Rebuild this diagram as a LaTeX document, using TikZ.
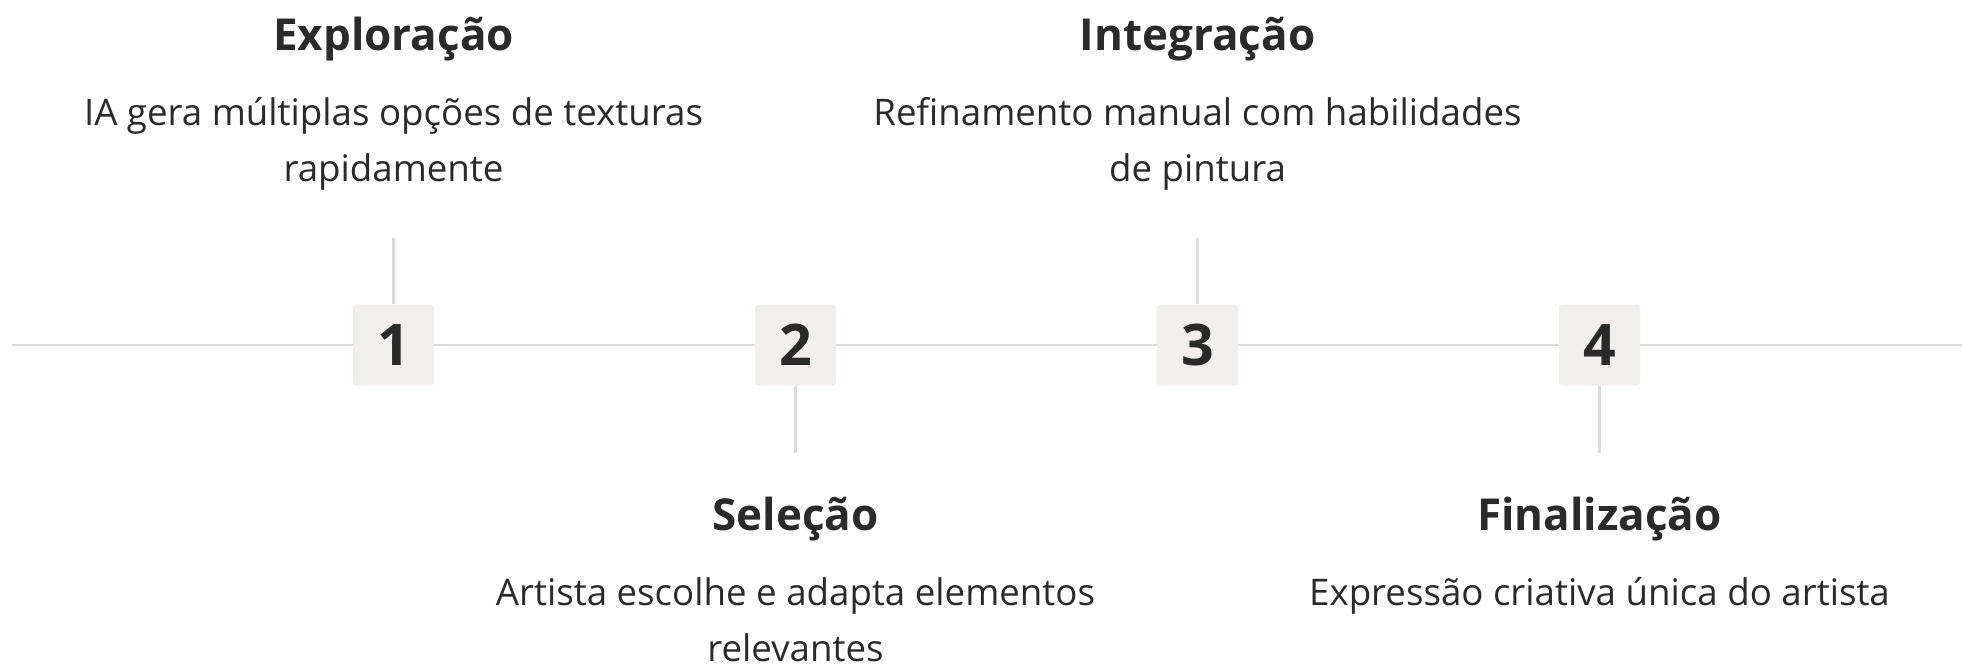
\documentclass[tikz,border=0pt]{standalone}
\usepackage{fontspec}
\setmainfont{Open Sans}
\definecolor{linegray}{HTML}{DCDADA}
\definecolor{boxfill}{HTML}{F1EEED}
\definecolor{txt}{HTML}{2A2A2A}
\begin{document}
\begin{tikzpicture}[x=0.75pt,y=-0.75pt,
  conn/.style={draw=linegray,line width=2.2pt},
  numbox/.style={fill=boxfill,rounded corners=2.5pt,minimum width=60.75pt,minimum height=60.75pt,inner sep=0pt,text=txt,font=\fontsize{43}{50}\selectfont\bfseries},
  ttl/.style={text=txt,font=\fontsize{33}{38}\selectfont\bfseries,inner sep=0pt,anchor=base},
  dsc/.style={text=txt,font=\fontsize{27.5}{32}\selectfont,inner sep=0pt,anchor=base}]
\useasboundingbox (0,0) rectangle (1962,667);
\coordinate (L) at (12,345);
\coordinate (R) at (1962,345);
\draw[conn] (L) -- (R);
\node[numbox] (b1) at (393.5,345) {1};
\node[numbox] (b2) at (795.5,345) {2};
\node[numbox] (b3) at (1197.5,345) {3};
\node[numbox] (b4) at (1599.5,345) {4};
\coordinate (t1) at (393.5,238);
\coordinate (t3) at (1197.5,238);
\coordinate (t2) at (795.5,453);
\coordinate (t4) at (1599.5,453);
\draw[conn] (b1.north) -- (t1);
\draw[conn] (b3.north) -- (t3);
\draw[conn] (b2.south) -- (t2);
\draw[conn] (b4.south) -- (t4);
% top labels
\node[ttl] (h1) at (393.5,51) {Exploração};
\node[dsc] (d1a) at (393.5,125) {IA gera múltiplas opções de texturas};
\node[dsc] (d1b) at (393.5,181) {rapidamente};
\node[ttl] (h3) at (1197.5,51) {Integração};
\node[dsc] (d3a) at (1197.5,125) {Refinamento manual com habilidades};
\node[dsc] (d3b) at (1197.5,181) {de pintura};
% bottom labels
\node[ttl] (h2) at (795.5,530) {Seleção};
\node[dsc] (d2a) at (795.5,605) {Artista escolhe e adapta elementos};
\node[dsc] (d2b) at (795.5,661) {relevantes};
\node[ttl] (h4) at (1599.5,530) {Finalização};
\node[dsc] (d4a) at (1599.5,605) {Expressão criativa única do artista};
\end{tikzpicture}
\end{document}
